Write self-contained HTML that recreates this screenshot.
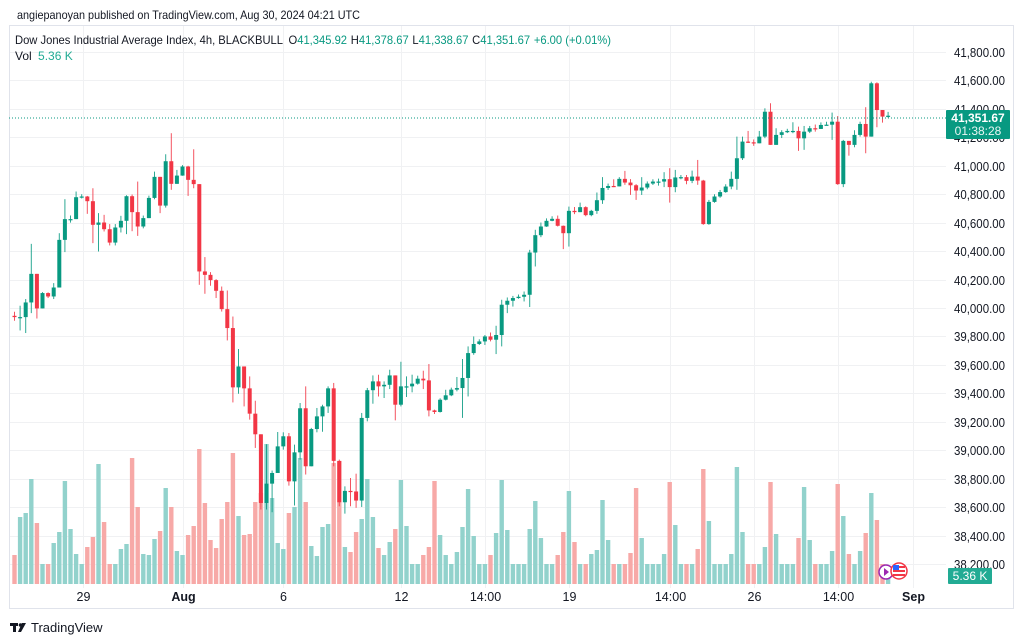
<!DOCTYPE html>
<html><head><meta charset="utf-8"><style>
html,body{margin:0;padding:0;background:#fff;}
svg{display:block;font-family:"Liberation Sans",sans-serif;}
</style></head><body>
<svg id="chart" width="1024" height="643" viewBox="0 0 1024 643" xmlns="http://www.w3.org/2000/svg">
<rect x="0" y="0" width="1024" height="643" fill="#fff"/>
<text x="17" y="19" font-size="12" fill="#131722" textLength="343" lengthAdjust="spacingAndGlyphs">angiepanoyan published on TradingView.com, Aug 30, 2024 04:21 UTC</text>
<rect x="9.5" y="25.5" width="1004" height="583" fill="none" stroke="#e0e3eb"/>
<g id="grid"></g>
<g id="vol"></g>
<g id="candles"></g>
<text x="15" y="44" font-size="12" fill="#131722" textLength="596" lengthAdjust="spacingAndGlyphs">Dow Jones Industrial Average Index, 4h, BLACKBULL <tspan dx="3">O</tspan><tspan fill="#089981">41,345.92</tspan><tspan dx="4">H</tspan><tspan fill="#089981">41,378.67</tspan><tspan dx="4">L</tspan><tspan fill="#089981">41,338.67</tspan><tspan dx="4">C</tspan><tspan fill="#089981">41,351.67</tspan><tspan dx="4" fill="#089981">+6.00 (+0.01%)</tspan></text>
<text x="15" y="60" font-size="12" fill="#131722">Vol <tspan dx="3" fill="#22ab94">5.36 K</tspan></text>
<line x1="9" y1="118" x2="946" y2="118" stroke="#089981" stroke-width="1" stroke-dasharray="1,2"/>
<g id="yaxis"></g>
<rect x="946" y="110" width="64" height="29" rx="1" fill="#089981"/>
<text x="978" y="122" font-size="12" font-weight="bold" fill="#fff" text-anchor="middle">41,351.67</text>
<text x="978" y="135" font-size="12" fill="#e8f6f3" text-anchor="middle">01:38:28</text>
<rect x="948" y="568" width="44" height="16" rx="1" fill="#22ab94"/>
<text x="970" y="580" font-size="12" fill="#fff" text-anchor="middle">5.36 K</text>
<g>
<circle cx="886" cy="572" r="7" fill="#fff" stroke="#9c27b0" stroke-width="1.5"/>
<path d="M884 568 L889 572 L884 576 Z" fill="#9c27b0"/>
<circle cx="899" cy="571" r="8" fill="#fff" stroke="#f23645" stroke-width="1.5"/>
<rect x="893" y="566" width="12" height="2" fill="#f23645"/><rect x="893" y="570" width="12" height="2" fill="#f23645"/><rect x="893" y="574" width="12" height="2" fill="#f23645"/>
<rect x="893" y="565" width="6" height="5" fill="#2962ff"/>
</g>
<g id="xaxis"></g>
<g>
<rect x="10" y="623" width="8" height="3" fill="#131722"/><rect x="13" y="623" width="3" height="9" fill="#131722"/>
<circle cx="20.5" cy="625" r="1.8" fill="#131722"/><path d="M22 623 L26 623 L21 632 L18 632 Z" fill="#131722"/>
<text x="31" y="632" font-size="13" fill="#131722">TradingView</text>
</g>
</svg>
<script>
var opens=[39945,39936,39936,40039,40240,39997,40105,40081,40144,40479,40625,40625,40779,40784,40751,40585,40601,40554,40460,40566,40613,40786,40674,40573,40632,40774,40922,40720,41032,40873,40931,40995,40901,40871,40257,40233,40196,40121,39992,39859,39442,39589,39435,39257,39112,38629,38765,38840,39027,39098,38781,38985,39295,38887,39149,39238,39308,39435,38925,38634,38714,38710,38646,39227,39422,39484,39449,39460,39526,39320,39449,39449,39468,39503,39491,39280,39269,39355,39386,39426,39437,39508,39683,39747,39765,39800,39777,39810,40023,40051,40070,40079,40093,40390,40512,40573,40613,40627,40578,40526,40683,40674,40709,40653,40683,40758,40844,40858,40855,40908,40882,40863,40826,40847,40875,40889,40889,40906,40850,40918,40920,40894,40924,40896,40590,40746,40784,40815,40854,40908,41053,41170,41165,41158,41205,41380,41147,41217,41236,41245,41245,41193,41240,41264,41259,41287,41289,41310,40871,41175,41147,41217,41294,41205,41580,41392,41346];
var closes=[39936,39936,40039,40240,39997,40105,40081,40144,40479,40625,40625,40779,40784,40751,40585,40601,40554,40460,40566,40613,40786,40674,40573,40632,40774,40922,40720,41032,40873,40931,40995,40901,40871,40257,40233,40196,40121,39992,39859,39442,39589,39435,39257,39112,38629,38765,38840,39027,39098,38781,38985,39295,38887,39149,39238,39308,39435,38925,38634,38714,38710,38646,39227,39422,39484,39449,39460,39526,39320,39449,39449,39468,39503,39491,39280,39269,39355,39386,39426,39437,39508,39683,39747,39765,39800,39777,39810,40023,40051,40070,40079,40093,40390,40512,40573,40613,40627,40578,40526,40683,40674,40709,40653,40683,40758,40844,40858,40855,40908,40882,40863,40826,40847,40875,40889,40889,40906,40850,40918,40920,40894,40924,40896,40590,40746,40784,40815,40854,40908,41053,41170,41165,41158,41205,41380,41147,41217,41236,41245,41245,41193,41240,41264,41259,41287,41289,41310,40871,41175,41147,41217,41294,41205,41580,41392,41346,41352];
var highs=[39974,40016,40063,40451,40240,40112,40110,40175,40526,40765,40650,40819,40800,40788,40842,40667,40655,40590,40590,40648,40793,40798,40889,40650,40790,40959,40922,41081,41229,40971,41005,41000,41116,40871,40358,40252,40203,40151,40123,39940,39712,39589,39519,39348,39112,39042,38857,39128,39126,39121,39039,39332,39449,39157,39297,39320,39449,39473,38934,38746,38805,38835,39262,39438,39526,39531,39484,39566,39526,39622,39519,39531,39524,39559,39606,39285,39365,39425,39440,39515,39641,39730,39800,39780,39810,39828,39875,40058,40074,40085,40095,40116,40409,40550,40601,40630,40645,40650,40580,40713,40710,40741,40715,40690,40812,40920,40875,40905,40920,40964,40906,40871,40920,40890,40905,40910,40955,40983,40971,40935,40935,40966,41041,40901,40760,40800,40830,40870,40959,41205,41205,41245,41185,41245,41404,41440,41264,41250,41260,41306,41275,41280,41280,41290,41305,41310,41374,41350,41182,41175,41250,41310,41412,41591,41587,41381,41379];
var lows=[39910,39842,39824,39964,39926,40007,40070,40063,40144,40393,40600,40660,40770,40662,40456,40397,40538,40440,40440,40531,40519,40540,40507,40560,40640,40765,40667,40706,40831,40896,40930,40788,40842,40163,40100,40156,40070,39975,39772,39336,39397,39308,39215,39016,38583,38583,38564,38852,39004,38751,38611,38934,38829,38887,39126,39130,39262,38887,38606,38554,38606,38595,38601,39203,39327,39378,39367,39430,39210,39308,39374,39407,39461,39430,39238,39255,39265,39350,39380,39414,39227,39378,39671,39740,39740,39765,39676,39730,39964,40010,40065,40046,40007,40292,40498,40570,40610,40573,40414,40432,40660,40685,40645,40645,40662,40732,40830,40850,40885,40866,40795,40760,40795,40835,40865,40860,40850,40741,40814,40905,40870,40878,40866,40585,40585,40740,40775,40810,40835,40831,41041,41160,41140,41159,41194,41147,41159,41195,41230,41229,41105,41112,41230,41240,41260,41285,41182,40866,40850,41071,41130,41205,41088,41205,41271,41303,41339];
var volumes=[29,67,71,105,61,20,20,41,52,103,55,30,20,37,47,120,62,20,20,35,40,126,77,30,29,45,53,96,77,33,29,49,58,135,81,44,36,65,82,131,68,49,50,82,91,140,86,41,35,71,77,126,82,38,28,57,60,121,123,37,32,52,65,105,67,36,29,42,55,104,58,20,20,29,37,103,49,29,20,32,57,95,48,20,20,29,51,104,54,20,20,20,55,83,46,20,20,29,52,93,42,20,20,30,34,84,44,20,20,20,31,96,46,20,20,20,30,102,59,20,20,20,35,115,63,20,20,20,30,117,52,20,20,20,37,102,50,20,20,20,46,97,44,20,20,20,33,100,68,30,20,33,51,91,64,20,10];
var priceTicks=[41800,41600,41400,41200,41000,40800,40600,40400,40200,40000,39800,39600,39400,39200,39000,38800,38600,38400,38200];
var xTickLabels=["29","Aug","6","12","14:00","19","14:00","26","14:00","Sep"];
var xTickBars=[12.2,30,48,69,84,99,117,132,147,160.5];
var xTickBold=[false,true,false,false,false,false,false,false,false,true];

var NS="http://www.w3.org/2000/svg";
function yP(p){return 52+(41800-p)*28.444/200;}
function xI(i){return 14.5+i*5.6;}
function yV(v){return 584-v;}
function mk(tag,attrs,parent){var e=document.createElementNS(NS,tag);for(var k in attrs)e.setAttribute(k,attrs[k]);parent.appendChild(e);return e;}
function fmt(p){var s=String(Math.round(p));return s.slice(0,s.length-3)+","+s.slice(-3)+".00";}

var grid=document.getElementById("grid"),ya=document.getElementById("yaxis"),xa=document.getElementById("xaxis");
priceTicks.forEach(function(p){
  var y=Math.round(yP(p))+0.5;
  var l=mk("line",{x1:10,x2:946,y1:y,y2:y,stroke:"#f0f1f3"},grid);
  
  
  var t=mk("text",{x:1005,y:y+4.5,"font-size":12.5,fill:"#131722","text-anchor":"end",textLength:51,lengthAdjust:"spacingAndGlyphs"},ya);
  t.textContent=fmt(p);
  
  
});
xTickBars.forEach(function(b,k){
  var x=Math.round(xI(b))+0.5;
  var l=mk("line",{x1:x,x2:x,y1:26,y2:588,stroke:"#f0f1f3"},grid);
  
  
  var t=mk("text",{x:x,y:601,"font-size":12.5,fill:"#131722","text-anchor":"middle","font-weight":xTickBold[k]?"bold":"normal"},xa);
  t.textContent=xTickLabels[k];
  
  
});

var vg=document.getElementById("vol"),cg=document.getElementById("candles");
var n=Math.min(opens.length,closes.length,highs.length,lows.length);
for(var i=0;i<volumes.length&&i<n;i++){
  var up=closes[i]>=opens[i];
  var r=mk("rect",{x:xI(i)-2.2,y:yV(volumes[i]),width:4.4,height:volumes[i],fill:up?"#92d2cc":"#f7a9a7"},vg);
  
  
}
for(var i=0;i<n;i++){
  var o=opens[i],c=closes[i],up=c>=o,col=up?"#089981":"#f23645";
  var hi=Math.max(highs[i],o,c),lo=Math.min(lows[i],o,c);
  var x=xI(i);
  var g=mk("g",{},cg);
  
  
  mk("line",{x1:x,x2:x,y1:yP(hi),y2:yP(lo),stroke:col,"stroke-width":1,opacity:0.85},g);
  var t=yP(Math.max(o,c)),b=yP(Math.min(o,c));
  mk("rect",{x:x-2,y:t,width:4,height:Math.max(1.2,b-t),fill:col},g);
}
</script>
</body></html>
